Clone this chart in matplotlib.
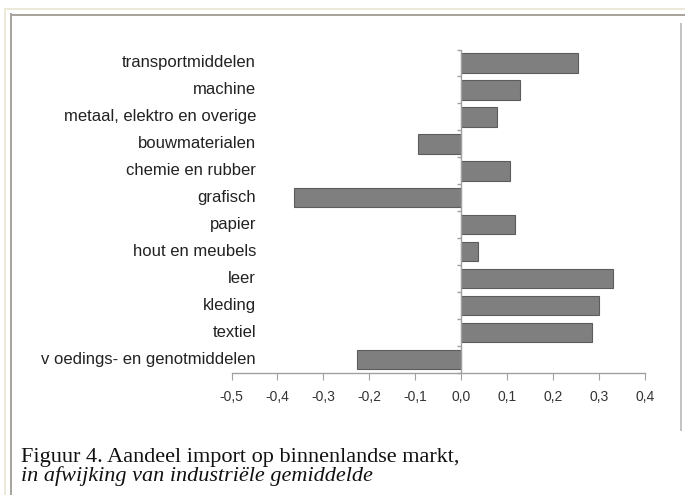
import matplotlib
matplotlib.use("Agg")
import matplotlib.pyplot as plt
import matplotlib.transforms as mtransforms
from matplotlib.lines import Line2D
import numpy as np

categories = ["transportmiddelen", "machine", "metaal, elektro en overige",
              "bouwmaterialen", "chemie en rubber", "grafisch", "papier",
              "hout en meubels", "leer", "kleding", "textiel",
              "v oedings- en genotmiddelen"]
values = [0.255, 0.127, 0.078, -0.093, 0.107, -0.364, 0.116,
          0.037, 0.331, 0.299, 0.284, -0.226]
xticks = [-0.5, -0.4, -0.3, -0.2, -0.1, 0.0, 0.1, 0.2, 0.3, 0.4]
xticklabels = ["-0,5", "-0,4", "-0,3", "-0,2", "-0,1", "0,0", "0,1", "0,2", "0,3", "0,4"]
caption1 = "Figuur 4. Aandeel import op binnenlandse markt,"
caption2 = "in afwijking van industriële gemiddelde"

W, H = 685, 495
fig = plt.figure(figsize=(W / 100, H / 100), dpi=100)
fig.patch.set_facecolor("white")

def px(x0, y0, x1, y1):
    return [x0 / W, x1 / W], [1 - y0 / H, 1 - y1 / H]

# frame lines
for (x0, y0, x1, y1, c, lw) in [
    (5, 9, 685, 9, "#ece9d8", 2.0),
    (5, 9, 5, 495, "#ece9d8", 2.0),
    (11, 14.5, 685, 14.5, "#a8a69c", 2.0),
    (11, 14, 11, 495, "#a8a69c", 2.0),
    (681, 24, 681, 430, "#c4c4c4", 2.0),
]:
    xs, ys = px(x0, y0, x1, y1)
    fig.add_artist(Line2D(xs, ys, color=c, lw=lw * 0.72, transform=fig.transFigure))

ax_l, ax_r, ax_t, ax_b = 231.5, 645, 49.5, 373
ax = fig.add_axes([ax_l / W, 1 - ax_b / H, (ax_r - ax_l) / W, (ax_b - ax_t) / H])
ax.set_facecolor("none")

y = np.arange(len(categories))
ax.barh(y, values, height=0.72, color="#7f7f7f", edgecolor="#5c5c5c", linewidth=0.8, zorder=3)
ax.set_xlim(-0.5, 0.4)
ax.set_ylim(len(categories) - 0.5, -0.5)

for s in ["top", "right", "left"]:
    ax.spines[s].set_visible(False)
ax.spines["bottom"].set_color("#a0a0a0")
ax.spines["bottom"].set_linewidth(1.0)

ax.set_xticks(xticks)
ax.set_xticklabels(xticklabels, fontsize=10, color="#333333", family="Liberation Sans")
ax.tick_params(axis="x", direction="out", length=5, color="#a0a0a0", pad=7)
ax.set_yticks([])

# vertical axis at zero with small ticks at category boundaries
ax.axvline(0, color="#a0a0a0", lw=1.0, zorder=4)
bounds = np.arange(-0.5, len(categories), 1.0)
ax.plot(np.zeros(len(bounds)), bounds, ls="none", marker=0, ms=3, mew=1.0,
        color="#a0a0a0", zorder=4, clip_on=False)

trans = mtransforms.blended_transform_factory(ax.transAxes, ax.transData)
xr = (256 - ax_l) / (ax_r - ax_l)
for yi, c in zip(y, categories):
    ax.text(xr, yi, c, transform=trans, ha="right", va="center",
            fontsize=12, color="#222222", family="Liberation Sans")

fig.text(21 / W, 1 - 462 / H, caption1, fontsize=16, family="Liberation Serif",
         color="#111111", va="baseline", ha="left")
fig.text(21 / W, 1 - 481 / H, caption2, fontsize=16, family="Liberation Serif",
         style="italic", color="#111111", va="baseline", ha="left")

fig.savefig("out.png", dpi=100, facecolor="white")
